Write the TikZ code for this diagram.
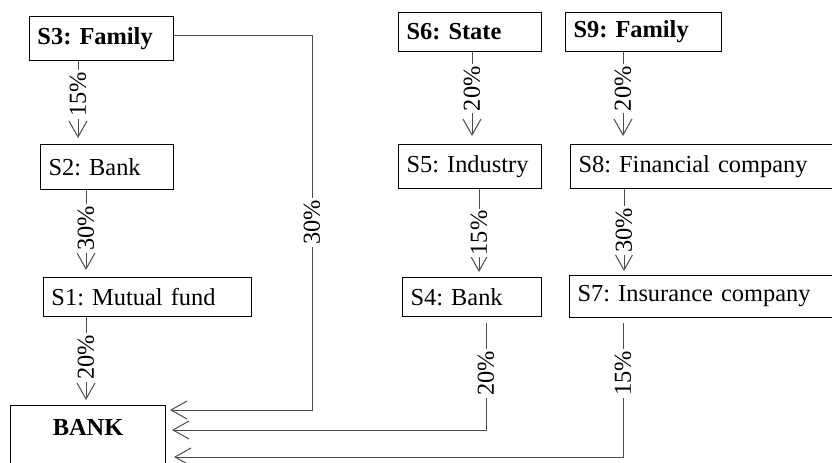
\documentclass[tikz,border=0pt]{standalone}
\usepackage{fontspec}
\setmainfont{Liberation Serif}
\usetikzlibrary{arrows.meta}
\frenchspacing

\begin{document}
\begin{tikzpicture}[x=0.5pt, y=-0.5pt, font=\fontsize{12.2}{14}\selectfont,
	box/.style = {draw, line width=0.5pt, anchor=north west, inner xsep=4pt, inner ysep=0pt, align=left}]
	\tikzset{edge/.style = {<-, > = {Straight Barb[length=8pt, width=9pt]}, line width=0.5pt, black!70}}
	\tikzset{pct/.style = {sloped, fill=white, inner sep=1pt, text=black}}

	\clip (0,0) rectangle (832,462);

		% left column
		\node[box, text width=64pt, minimum height=22pt] (S3) at (29,16) {\textbf{S3: Family}};
		\node[box, text width=58.5pt, minimum height=22.5pt] (S2) at (40,144) {S2: Bank};
		\node[box, text width=96pt, minimum height=19.5pt] (S1) at (43,277) {S1: Mutual fund};
		\node[box, text width=69.5pt, align=center, inner ysep=7pt, text height=8pt, text depth=20pt] (BANK) at (10,405) {\textbf{BANK}};

		% right columns
		\node[box, text width=63.5pt, minimum height=19.5pt] (S6) at (398,12) {\textbf{S6: State}};
		\node[box, text width=70pt, minimum height=19.5pt] (S9) at (565,12) {\textbf{S9: Family}};
		\node[box, text width=63.5pt, minimum height=22pt] (S5) at (398,144) {S5: Industry};
		\node[box, text width=132pt, minimum height=22pt] (S8) at (570,144) {S8: Financial company};
		\node[box, text width=61.5pt, minimum height=19.5pt] (S4) at (402,277) {S4: Bank};
		\node[box, text width=132pt, minimum height=21pt] (S7) at (569,275) {S7: Insurance company};

		\draw[edge, shorten <=3pt] (S2.north -| 78,0) -- node[pct, pos=.6]{15\%} (S3.south -| 78,0);
		\draw[edge, shorten <=3.5pt] (S1.north -| 86,0) -- node[pct, pos=.56]{30\%} (S2.south -| 86,0);
		\draw[edge, shorten <=2.5pt] (BANK.north -| 86,0) -- node[pct, pos=.54]{20\%} (S1.south -| 86,0);

		\draw[edge, shorten <=4pt] (S5.north -| 472,0) -- node[pct, pos=.6]{20\%} (S6.south -| 472,0);
		\draw[edge, shorten <=4pt] (S8.north -| 623,0) -- node[pct, pos=.6]{20\%} (S9.south -| 623,0);
		\draw[edge, shorten <=2.5pt] (S4.north -| 479,0) -- node[pct, pos=.5]{15\%} (S5.south -| 479,0);
		\draw[edge, shorten <=2pt] (S7.north -| 624,0) -- node[pct, pos=.52]{30\%} (S8.south -| 624,0);

		% flows into the bank
		\draw[edge, shorten <=2pt] (BANK.east |- 0,410) -| node[pct, pos=.75]{30\%} (312,35) -- (S3.east |- 0,35);
		\draw[edge, shorten <=3pt, shorten >=3pt] (BANK.east |- 0,430) -| node[pct, pos=.75]{20\%} (S4.south -| 486,0);
		\draw[edge, shorten <=4pt, shorten >=2.5pt] (BANK.east |- 0,457) -| node[pct, pos=.8]{15\%} (S7.south -| 623,0);
	\end{tikzpicture}
\end{document}
